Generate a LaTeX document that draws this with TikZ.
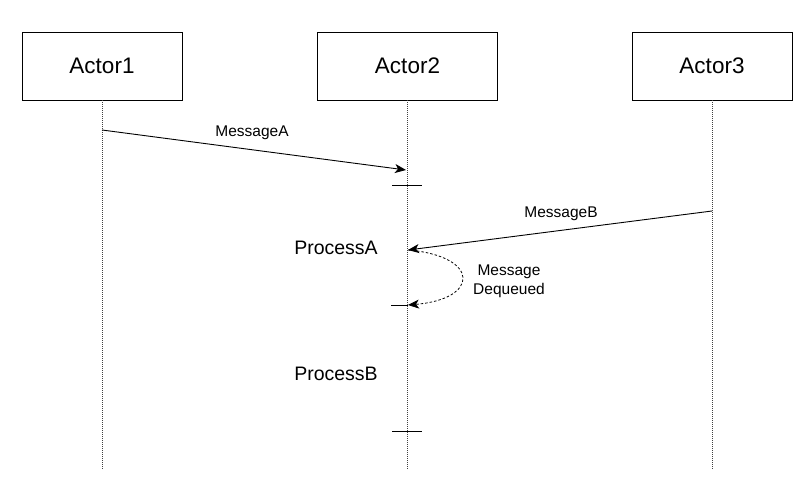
\documentclass[tikz,border=0pt]{standalone}
\usepackage{fontspec}
\setmainfont{Liberation Sans}
\usetikzlibrary{arrows.meta}
\begin{document}
\begin{tikzpicture}[x=1pt,y=-1pt,
  actor/.style={draw, line width=0.9pt, minimum width=160pt, minimum height=68pt, inner sep=0pt, font=\fontsize{22.5}{26}\selectfont},
  lifeline/.style={draw=black!75, line width=0.8pt, dash pattern=on 0.8pt off 1.2pt},
  msg/.style={draw, line width=0.9pt, -{Stealth[length=11pt,width=9pt,inset=3pt]}},
  dmsg/.style={draw, line width=0.8pt, dash pattern=on 2.5pt off 2pt, -{Stealth[length=11pt,width=9pt,inset=3pt]}},
  lbl/.style={inner sep=0pt, font=\fontsize{15.5}{19}\selectfont, align=center},
  plbl/.style={inner sep=0pt, font=\fontsize{19.5}{23}\selectfont},
  tick/.style={draw, line width=0.9pt}]
\useasboundingbox[fill=white] (0,0) rectangle (812,492);
\node[actor] (a1) at (102,66) {Actor1};
\node[actor, minimum width=180pt] (a2) at (407.5,66) {Actor2};
\node[actor] (a3) at (712,66) {Actor3};
\coordinate (e1) at (102,470);
\coordinate (e2) at (407,470);
\coordinate (e3) at (712,470);
\draw[lifeline] (a1.south) -- (e1);
\draw[lifeline] (a2.south -| e2) -- (e2);
\draw[lifeline] (a3.south) -- (e3);
% MessageA
\coordinate (mas) at (102,130);
\coordinate (mae) at (406,170);
\draw[msg] (mas) -- (mae);
\node[lbl] (la) at (252,133) {MessageA};
\coordinate (t1a) at (392,185);
\coordinate (t1b) at (422,185);
\draw[tick] (t1a) -- (t1b);
% MessageB
\coordinate (mbs) at (712,211);
\coordinate (mbe) at (408,250);
\draw[msg] (mbs) -- (mbe);
\node[lbl] (lb) at (561,214) {MessageB};
\node[plbl] (pa) at (336,248) {ProcessA};
% Dequeued
\coordinate (dqe) at (408,305);
\draw[dmsg] (mbe) .. controls (480,256) and (480,299) .. (dqe);
\node[lbl] (ldq) at (509,281) {Message\\Dequeued};
\coordinate (t2a) at (391,305);
\draw[tick] (t2a) -- (dqe);
\node[plbl] (pb) at (336,374) {ProcessB};
\coordinate (t3a) at (392,431);
\coordinate (t3b) at (422,431);
\draw[tick] (t3a) -- (t3b);
\end{tikzpicture}
\end{document}
